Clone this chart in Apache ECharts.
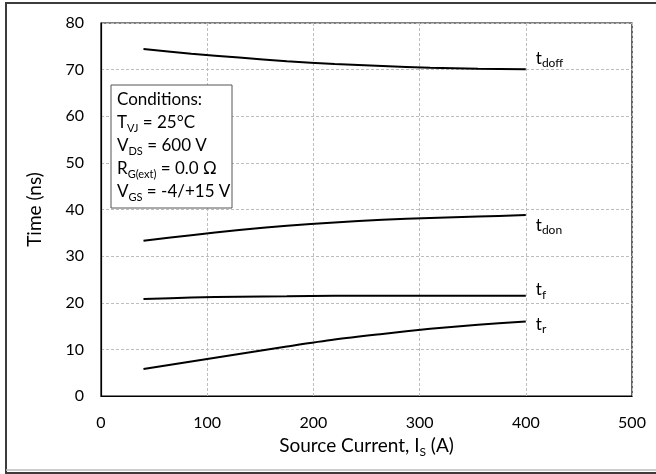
<!DOCTYPE html>
<html>
<head>
<meta charset="utf-8">
<script src="https://cdn.jsdelivr.net/npm/echarts@6/dist/echarts.min.js"></script>
<style>
html,body{margin:0;padding:0;background:#fff;}
#chart{width:656px;height:474px;}
</style>
</head>
<body>
<div id="chart"></div>
<script>
// ---- data ----
const currents = [40, 85, 130, 175, 220, 265, 310, 355, 400];
const tdoff = [74.4, 73.4, 72.6, 71.8, 71.2, 70.8, 70.4, 70.2, 70.1];
const tdon  = [33.3, 34.5, 35.6, 36.5, 37.2, 37.8, 38.2, 38.5, 38.8];
const tf    = [20.8, 21.1, 21.3, 21.4, 21.5, 21.5, 21.5, 21.5, 21.5];
const tr    = [5.8, 7.4, 9.0, 10.6, 12.1, 13.3, 14.4, 15.3, 16.0];
const seriesNames = ['doff', 'don', 'f', 'r'];
const xTicks = [0, 100, 200, 300, 400, 500];
const yTicks = [0, 10, 20, 30, 40, 50, 60, 70, 80];
const conditions = [
  ['Conditions:', ''],
  ['T', 'VJ', ' = 25°C'],
  ['V', 'DS', ' = 600 V'],
  ['R', 'G(ext)', ' = 0.0 Ω'],
  ['V', 'GS', ' = -4/+15 V']
];

const FONT = 'Lato, "Open Sans", sans-serif';
const chart = echarts.init(document.getElementById('chart'), null, {renderer: 'canvas'});

const subRich = {
  t: {fontFamily: FONT, fontSize: 17, color: '#000', lineHeight: 22, verticalAlign: 'middle'},
  s: {fontFamily: FONT, fontSize: 12, color: '#000', lineHeight: 12, verticalAlign: 'bottom'}
};

function pairs(ys) { return currents.map((x, i) => [x, ys[i]]); }

const allSeries = [tdoff, tdon, tf, tr];
const labelOffsets = [[2, -11], [2, 10], [2, -6], [2, 3]];

const series = allSeries.map((ys, i) => ({
  type: 'line',
  name: seriesNames[i],
  data: pairs(ys),
  smooth: 0.3,
  symbol: 'none',
  lineStyle: {color: '#000', width: 2},
  endLabel: {
    show: true,
    offset: labelOffsets[i],
    formatter: () => '{t|t}{s|' + seriesNames[i] + '}',
    rich: subRich
  },
  z: 3
}));

const condText = conditions.map(c =>
  c.length === 2 ? '{a|' + c[0] + '}' : '{a|' + c[0] + '}{b|' + c[1] + '}{a|' + c[2] + '}'
).join('\n');

chart.setOption({
  animation: false,
  backgroundColor: '#fff',
  grid: {left: 101, top: 23, width: 531, height: 373, show: true, borderColor: '#000', borderWidth: 1.2, containLabel: false},
  xAxis: {
    type: 'value', min: xTicks[0], max: xTicks[xTicks.length - 1], interval: 100,
    name: '{a|Source Current, I}{b|S}{a| (A)}',
    nameLocation: 'middle', nameGap: 38,
    nameTextStyle: {
      rich: {
        a: {fontFamily: FONT, fontSize: 19, color: '#000', lineHeight: 24, verticalAlign: 'middle'},
        b: {fontFamily: FONT, fontSize: 12, color: '#000', lineHeight: 12, verticalAlign: 'bottom'}
      }
    },
    axisLine: {show: true, lineStyle: {color: '#000', width: 1.2}},
    axisTick: {show: false},
    axisLabel: {fontFamily: FONT, fontSize: 16, color: '#000', margin: 19},
    splitLine: {show: true, lineStyle: {color: '#bdbdbd', type: [3, 2], width: 1}}
  },
  yAxis: {
    type: 'value', min: yTicks[0], max: yTicks[yTicks.length - 1], interval: 10,
    name: 'Time (ns)', nameLocation: 'middle', nameGap: 57,
    nameTextStyle: {fontFamily: FONT, fontSize: 19, color: '#000'},
    axisLine: {show: true, lineStyle: {color: '#000', width: 1.2}},
    axisTick: {show: false},
    axisLabel: {fontFamily: FONT, fontSize: 16, color: '#000', margin: 17},
    splitLine: {show: true, lineStyle: {color: '#bdbdbd', type: [3, 2], width: 1}}
  },
  series: series,
  graphic: [
    {type: 'rect', shape: {x: 6, y: 3, width: 700, height: 470}, style: {fill: 'none', stroke: '#3c3c3c', lineWidth: 2}, z: 10, silent: true},
    {type: 'line', shape: {x1: 6, y1: 470, x2: 700, y2: 470}, style: {stroke: '#bbbbbb', lineWidth: 1.5}, z: 10, silent: true},
    {type: 'rect', shape: {x: 111, y: 85, width: 121, height: 123}, style: {fill: '#fff', stroke: '#555', lineWidth: 1}, z: 20},
    {type: 'text', x: 117, y: 88, z: 21,
      style: {
        text: condText,
        rich: {
          a: {fontFamily: FONT, fontSize: 17, color: '#000', lineHeight: 23, verticalAlign: 'middle'},
          b: {fontFamily: FONT, fontSize: 11, color: '#000', lineHeight: 14, verticalAlign: 'bottom'}
        }
      }
    }
  ]
});
</script>
</body>
</html>
